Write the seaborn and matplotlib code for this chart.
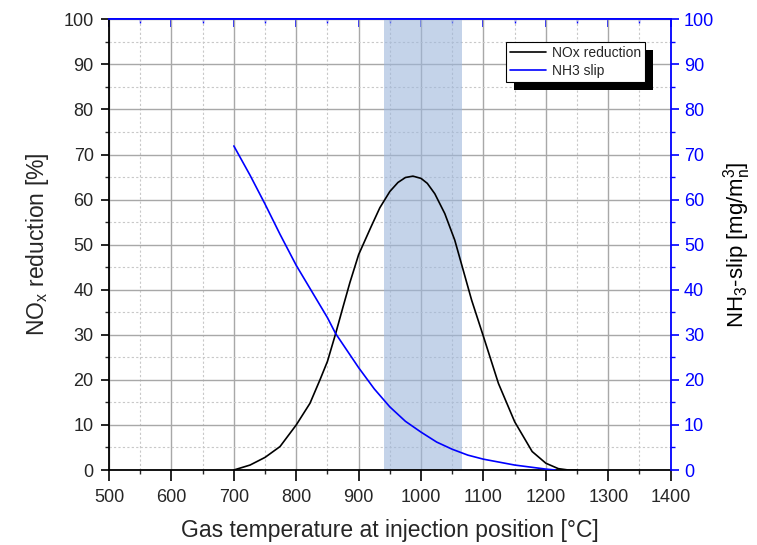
import numpy as np
import pandas as pd
import matplotlib
matplotlib.use('Agg')
import matplotlib.pyplot as plt
import seaborn as sns
from matplotlib.patches import Rectangle
from matplotlib.transforms import IdentityTransform
from matplotlib.ticker import MultipleLocator

# Data
temp_nox = [700, 726, 750, 774, 800, 822, 838, 850, 863, 875, 886, 900, 920, 934, 950, 963, 975,
            987, 1000, 1010, 1022, 1038, 1054, 1066, 1081, 1100, 1124, 1150, 1178, 1200, 1220, 1236, 1250]
nox_reduction = [0, 1.1, 2.8, 5.2, 10.0, 14.8, 20.0, 24.1, 30.2, 36.2, 41.6, 47.8, 54.0, 58.2, 61.8, 63.8, 64.9,
                 65.2, 64.7, 63.6, 61.3, 56.9, 51.0, 45.1, 37.7, 29.6, 19.2, 10.7, 4.1, 1.5, 0.3, 0, 0]

temp_nh3 = [700, 726, 750, 774, 800, 850, 863, 900, 925, 950, 975, 1000, 1025, 1050, 1075,
            1100, 1150, 1200, 1215]
nh3_slip = [71.9, 65.4, 59.0, 52.3, 45.4, 33.8, 30.3, 22.7, 18.0, 14.0, 10.8, 8.4, 6.2, 4.6, 3.3,
            2.4, 1.1, 0.2, 0]

window = (941, 1065)  # shaded temperature window

nox_df = pd.DataFrame({'temp': temp_nox, 'value': nox_reduction})
nh3_df = pd.DataFrame({'temp': temp_nh3, 'value': nh3_slip})

sns.set_style('white')
plt.rcParams['font.family'] = ['Liberation Sans', 'DejaVu Sans']
plt.rcParams['mathtext.fontset'] = 'custom'
plt.rcParams['mathtext.rm'] = 'Liberation Sans'
plt.rcParams['mathtext.it'] = 'Liberation Sans:italic'

fig = plt.figure(figsize=(7.57, 5.45), dpi=100)
ax = fig.add_axes([0.144, 0.1376, 0.742, 0.827])
ax2 = ax.twinx()

ax.axvspan(window[0], window[1], color='#9db6db', alpha=0.6, lw=0, zorder=1.5)

sns.lineplot(data=nox_df, x='temp', y='value', ax=ax, color='black', lw=1.2,
             label='NOx reduction', legend=False, zorder=3)
sns.lineplot(data=nh3_df, x='temp', y='value', ax=ax2, color='blue', lw=1.2,
             label='NH3 slip', legend=False, zorder=3)

for a in (ax, ax2):
    a.set_xlim(500, 1400)
    a.set_ylim(0, 100)
    a.yaxis.set_major_locator(MultipleLocator(10))
    a.yaxis.set_minor_locator(MultipleLocator(5))
ax.xaxis.set_major_locator(MultipleLocator(100))
ax.xaxis.set_minor_locator(MultipleLocator(50))

ax.set_axisbelow(True)
ax.grid(which='major', color='#a8a8a8', lw=1.0, ls='-')
ax.grid(which='minor', color='#c8c8c8', lw=0.8, ls=(0, (2, 2)))

ax.spines['top'].set_visible(False)
ax.spines['right'].set_visible(False)
ax2.spines['left'].set_visible(False)
ax2.spines['bottom'].set_visible(False)
for s in ('left', 'bottom'):
    ax.spines[s].set_linewidth(1.3)
    ax.spines[s].set_color('black')
for s in ('right', 'top'):
    ax2.spines[s].set_linewidth(1.3)
    ax2.spines[s].set_color('blue')

ax.tick_params(axis='y', which='major', direction='out', length=6, width=1.2,
               labelsize=13, color='black', left=True, pad=5)
ax.tick_params(axis='x', which='major', direction='out', length=8, width=1.2,
               labelsize=13, color='black', bottom=True, pad=6)
ax.tick_params(axis='both', which='minor', direction='out', length=3, width=1.0,
               left=True, bottom=True)
ax2.tick_params(axis='y', which='major', direction='out', length=6, width=1.2,
                labelsize=13, color='blue', labelcolor='blue', right=True)
ax2.tick_params(axis='y', which='minor', direction='out', length=3, width=1.0,
                color='blue', right=True)

top = ax.secondary_xaxis('top')
top.xaxis.set_major_locator(MultipleLocator(100))
top.xaxis.set_minor_locator(MultipleLocator(50))
top.tick_params(axis='x', which='major', direction='in', length=6, width=1.2,
                color='blue', labeltop=False)
top.tick_params(axis='x', which='minor', direction='in', length=3, width=1.0,
                color='blue')
top.spines['top'].set_color('blue')
top.spines['top'].set_linewidth(1.3)

ax.set_xlabel('Gas temperature at injection position [°C]', fontsize=16.5, labelpad=9)
ax.set_ylabel(r'NO$_\mathregular{x}$ reduction [%]', fontsize=16.5, labelpad=9)
ax2.set_ylabel(r'NH$_\mathregular{3}$-slip [mg/m$^\mathregular{3}_\mathregular{n}$]',
               fontsize=16, rotation=90, labelpad=5, color='black')

h1, l1 = ax.get_legend_handles_labels()
h2, l2 = ax2.get_legend_handles_labels()
leg = ax2.legend(h1 + h2, l1 + l2, loc='upper left', bbox_to_anchor=(0.668, 0.923),
                 bbox_transform=fig.transFigure, borderaxespad=0, fancybox=False,
                 framealpha=1, edgecolor='black', fontsize=10, handlelength=2.6,
                 handletextpad=0.4, borderpad=0.3, labelspacing=0.3)
leg.get_frame().set_linewidth(0.8)
leg.set_zorder(10)

# drop shadow behind the legend box
fig.canvas.draw()
bb = leg.get_window_extent()
shadow = Rectangle((bb.x0 + 8, bb.y0 - 8), bb.width, bb.height, transform=IdentityTransform(),
                   facecolor='black', edgecolor='none', zorder=9, clip_on=False)
ax2.add_artist(shadow)

fig.savefig('out.png', dpi=100)
